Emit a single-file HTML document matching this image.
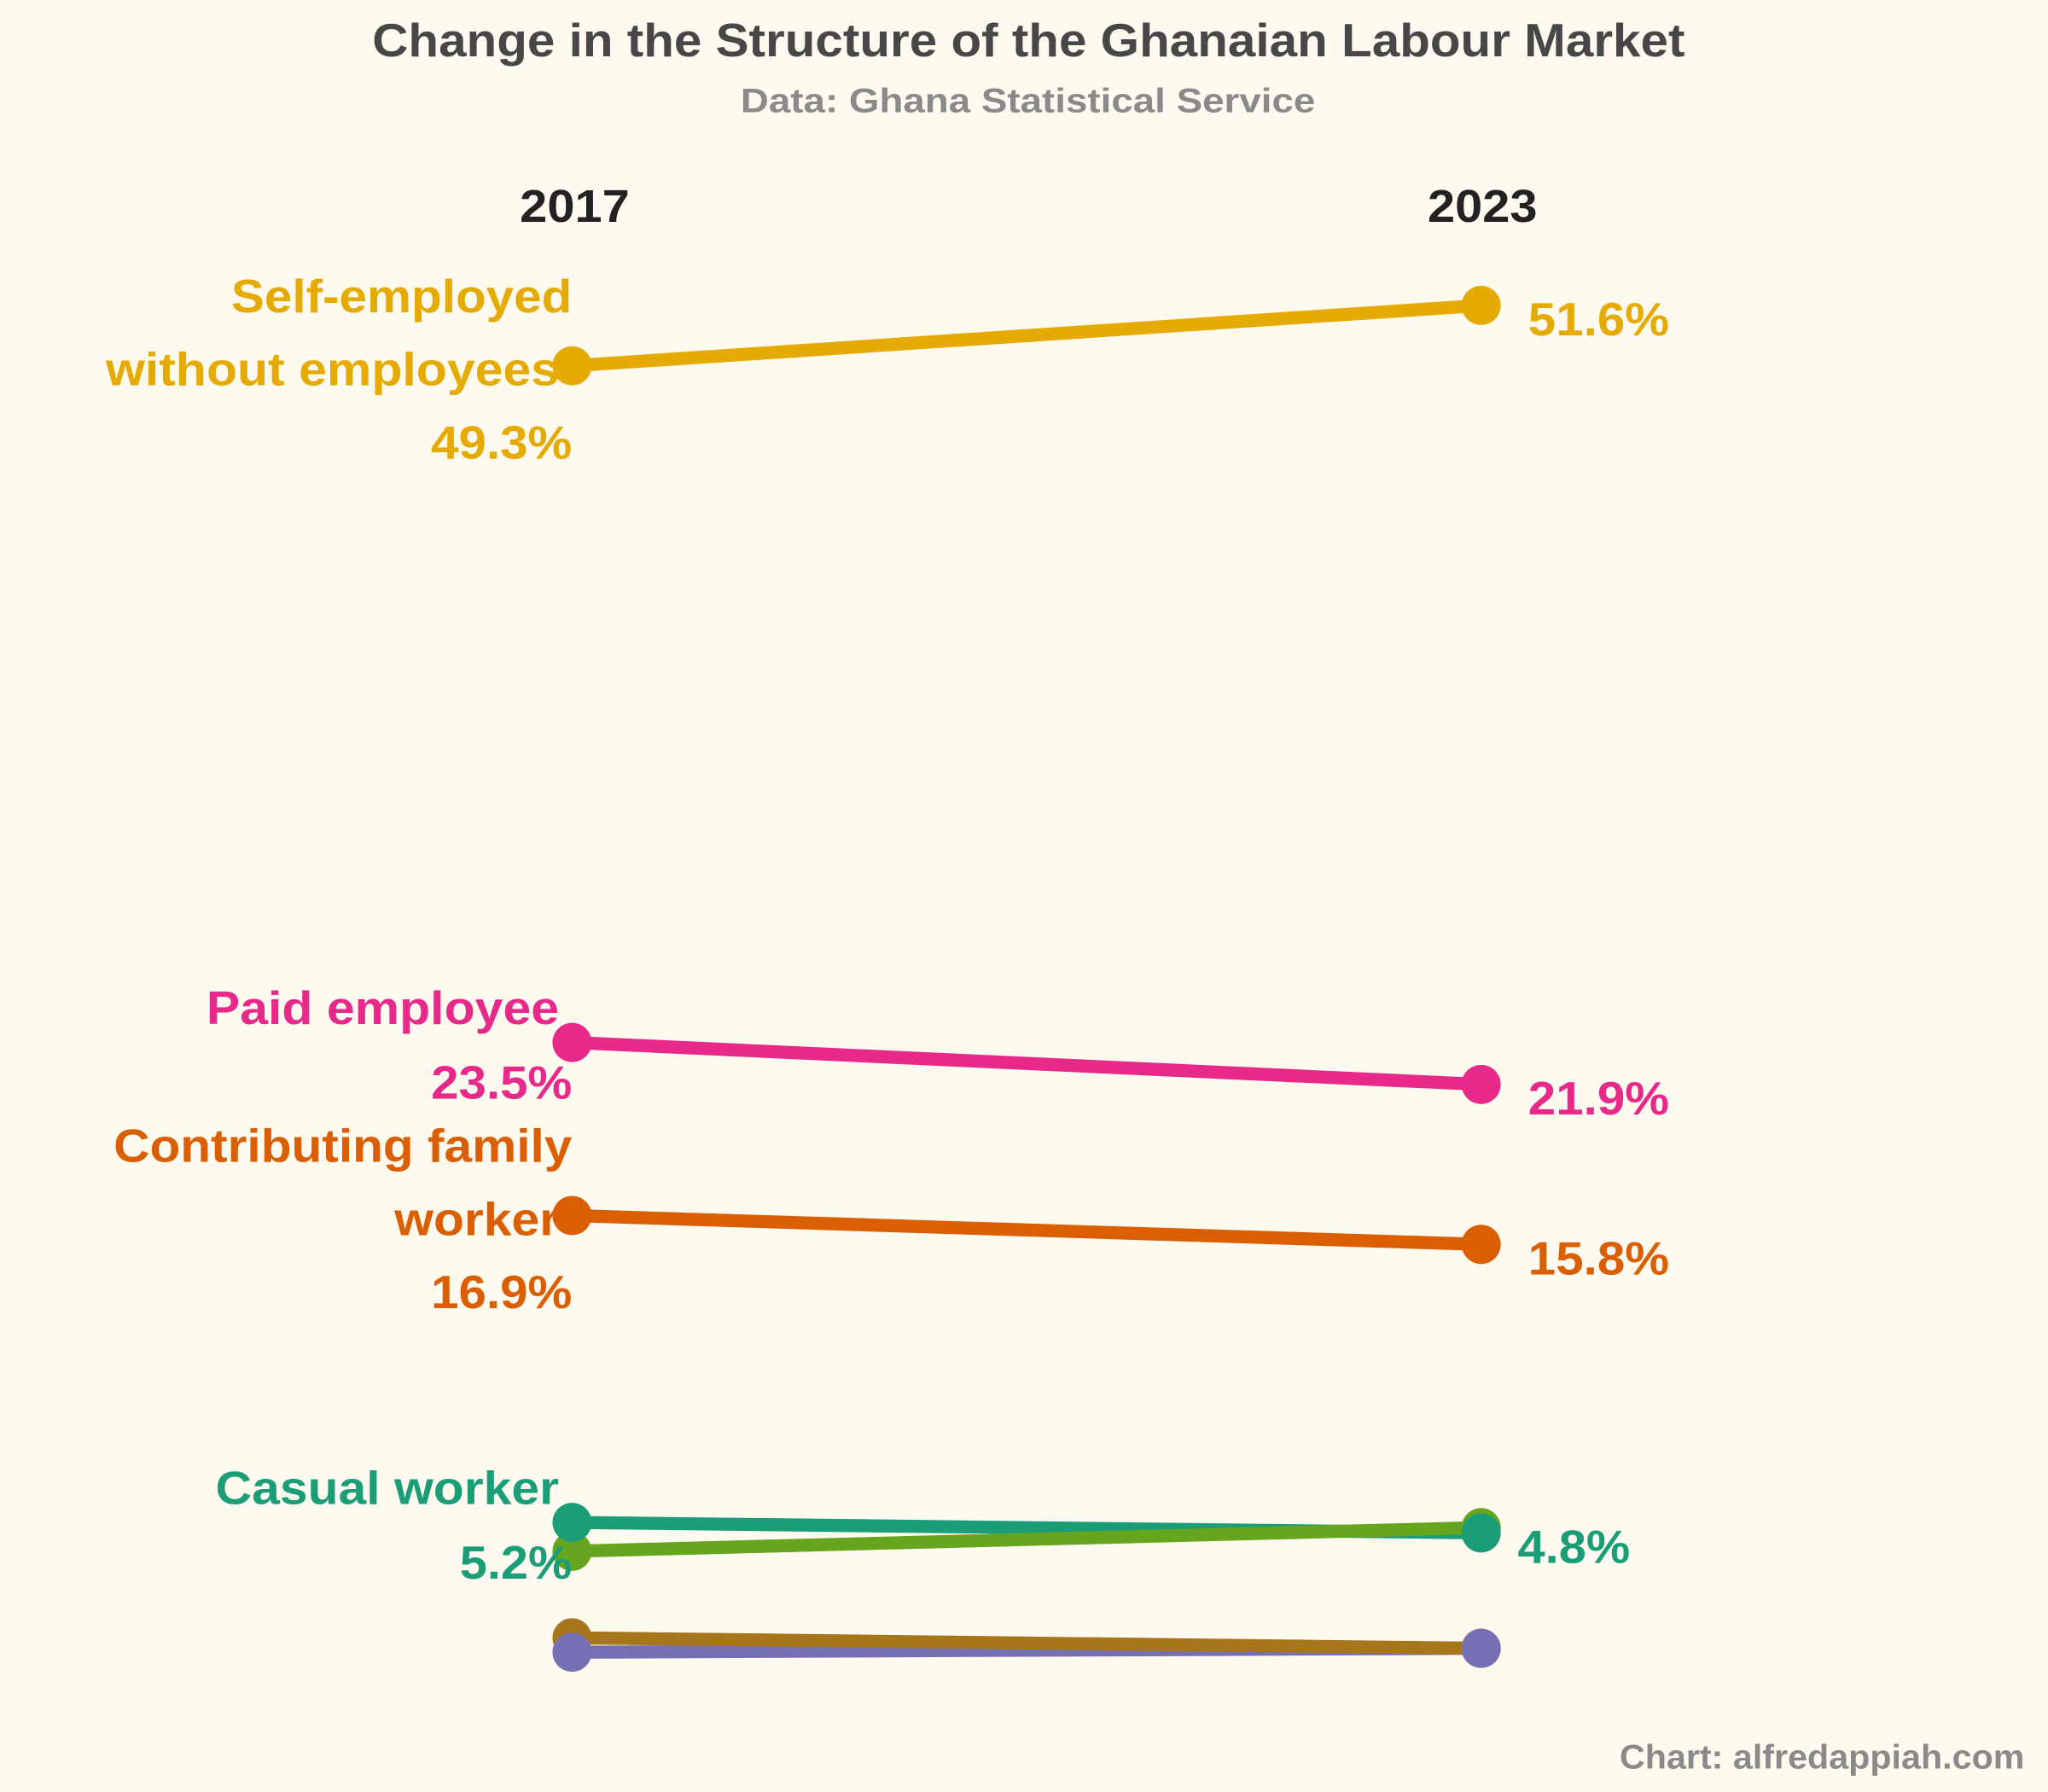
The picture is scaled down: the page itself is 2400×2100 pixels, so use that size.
<!DOCTYPE html>
<html><head><meta charset="utf-8"><style>
html,body{margin:0;padding:0;background:#FEFAF0;}
svg{display:block;font-family:"Liberation Sans",Arial,sans-serif;font-weight:bold;}
</style></head><body>
<svg id="chart" width="2400" height="2100" viewBox="0 0 1568 1372" xmlns="http://www.w3.org/2000/svg">
<rect width="1568" height="1372" fill="#FEFAF0"/>
<text x="285" y="43" textLength="1005" lengthAdjust="spacingAndGlyphs" font-size="36" fill="#474747">Change in the Structure of the Ghanaian Labour Market</text>
<text x="567" y="86" textLength="440" lengthAdjust="spacingAndGlyphs" font-size="26" fill="#8a8a8a">Data: Ghana Statistical Service</text>
<text x="398" y="170" textLength="84" lengthAdjust="spacingAndGlyphs" font-size="35" fill="#222">2017</text>
<text x="1093" y="170" textLength="84" lengthAdjust="spacingAndGlyphs" font-size="35" fill="#222">2023</text>
<text x="1240" y="1354" textLength="310" lengthAdjust="spacingAndGlyphs" font-size="26" fill="#8a8a8a">Chart: alfredappiah.com</text>
<g id="lines"></g>
<g id="dots"></g>
<g id="labels"></g>
</svg>
<script>
const categories = ["Self-employed without employees","Paid employee","Contributing family worker","Casual worker","Other category A","Other category B","Other category C"];
const values2017 = [49.3, 23.5, 16.9, 5.2, 4.1, 0.8, 0.25];
const values2023 = [51.6, 21.9, 15.8, 4.8, 5.0, 0.4, 0.4];
const colors = ["#E6AB02","#E7298A","#D95F02","#1B9E77","#66A61E","#A6761D","#7570B3"];
const leftLabelLines = [["Self-employed","without employees"],["Paid employee"],["Contributing family","worker"],["Casual worker"],[],[],[]];
const labelled = [true,true,true,true,false,false,false];
const lineOrder = [0,1,2,3,4,6,5];
const dotOrder = [0,1,2,4,3,5,6];

const NS = "http://www.w3.org/2000/svg";
const X0 = 438, X1 = 1134;
function yScale(v){ return 1270 - v * 20.08; }
const gL = document.getElementById('lines'), gD = document.getElementById('dots'), gT = document.getElementById('labels');
function mk(tag, attrs){ const e = document.createElementNS(NS, tag); for (const k in attrs) e.setAttribute(k, attrs[k]); return e; }
const knownWidths = {"Self-employed":261,"without employees":347,"Paid employee":270,"Contributing family":351,"worker":126,"Casual worker":263};
function textWidth(s){ if (knownWidths[s]) return knownWidths[s]; return s.length === 4 ? 86 : 108; }

lineOrder.forEach(i => {
  const line = mk('line', {x1:X0, y1:yScale(values2017[i]), x2:X1, y2:yScale(values2023[i]), stroke:colors[i], 'stroke-width':10});
  
  
  gL.appendChild(line);
});
dotOrder.forEach(i => {
  const c0 = mk('circle', {cx:X0, cy:yScale(values2017[i]), r:15, fill:colors[i]});
  
  
  gD.appendChild(c0);
  const c1 = mk('circle', {cx:X1, cy:yScale(values2023[i]), r:15, fill:colors[i]});
  
  
  gD.appendChild(c1);
});

function addText(str, x, y, anchor, color, name){
  const t = mk('text', {x:x, y:y, 'text-anchor':anchor, 'font-size':36, fill:color, textLength: textWidth(str), lengthAdjust:'spacingAndGlyphs'});
  t.textContent = str;
  
  
  gT.appendChild(t);
}

categories.forEach((cat, i) => {
  if (!labelled[i]) return;
  const y0 = yScale(values2017[i]), y1 = yScale(values2023[i]);
  const lines = leftLabelLines[i];
  const baseY = lines.length === 2 ? y0 - 41 : y0 - 14;
  lines.forEach((ln, k) => {
    const xEnd = (lines.length === 1 || k === 1) ? 428 : 438;
    addText(ln, xEnd, baseY + k*56, 'end', colors[i], 'category-label-' + i + '-' + k);
  });
  const vy = lines.length === 2 ? y0 + 71 : y0 + 43;
  addText(values2017[i].toFixed(1) + '%', 438, vy, 'end', colors[i], 'value-2017-' + i);
  addText(values2023[i].toFixed(1) + '%', i === 3 ? 1162 : 1170, y1 + 23, 'start', colors[i], 'value-2023-' + i);
});
</script>
</body></html>
